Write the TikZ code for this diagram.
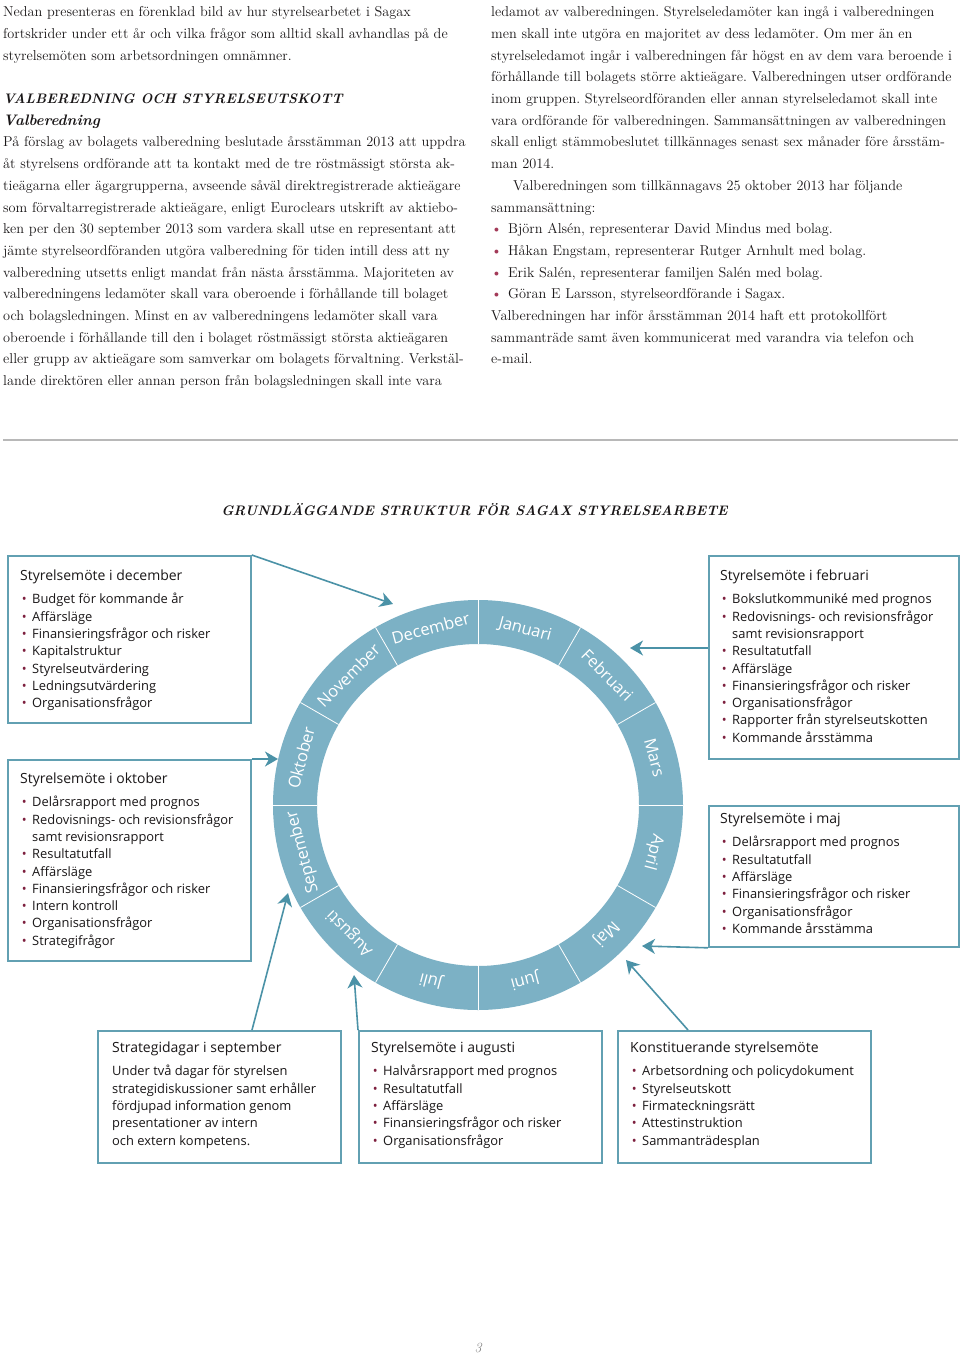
\documentclass[tikz,border=0pt]{standalone}
\usepackage{fontspec}
\newfontfamily\sansf{Open Sans}
\usetikzlibrary{arrows.meta,calc}
\definecolor{ringc}{HTML}{7CB1C5}
\definecolor{boxc}{HTML}{62A0B2}
\definecolor{arrc}{HTML}{4B92A7}
\definecolor{dotc}{HTML}{7D1F3E}
\definecolor{bulc}{HTML}{A33A58}
\definecolor{rulec}{HTML}{B8B8B8}
\definecolor{txt}{HTML}{1A1718}
\newcommand{\bodybul}{\makebox[17pt][l]{\textcolor{bulc}{\textbullet}}}
\newcommand{\boxbul}{\makebox[12pt][l]{\hspace*{1.6pt}\textcolor{dotc}{\textbullet}}}
\newcommand{\boxind}{\hspace*{12pt}}
\newcommand{\boxtitle}[1]{{\fontsize{14}{17.3}\selectfont\rule{0pt}{12pt}#1}}
\newcommand{\headf}{\bfseries\itshape\fontsize{13.8}{21.7}\selectfont}
\newcommand{\subheadf}{\bfseries\itshape\fontsize{15.2}{21.7}\selectfont}
\frenchspacing
\begin{document}
\begin{tikzpicture}[x=1pt,y=-1pt,
  body/.style={anchor=north west, inner sep=0, align=left, text=txt, font=\frenchspacing\fontsize{14.3}{21.7}\selectfont},
  frame/.style={draw=boxc, line width=1.8pt, anchor=north west, inner sep=0},
  boxtext/.style={anchor=north west, inner sep=0, align=left, text=txt, font=\sansf\fontsize{12.9}{17.3}\selectfont},
  conn/.style={draw=arrc, line width=1.6pt, -{Stealth[length=13pt,width=15pt,inset=4pt]}},
  month/.style={text=white, font=\sansf\fontsize{16.5}{18}\selectfont, inner sep=0, anchor=base},
]
\fill[white] (0,0) rectangle (960,1356);
\useasboundingbox (0,0) rectangle (960,1356);

% ---------- body text ----------
\node[body] (lcol) at (3,3.5) {\rule{0pt}{13pt}Nedan presenteras en förenklad bild av hur styrelsearbetet i Sagax\\
fortskrider under ett år och vilka frågor som alltid skall avhandlas på de\\
styrelsemöten som arbetsordningen omnämner.\\[21.7pt]
{\headf VALBEREDNING OCH STYRELSEUTSKOTT}\\
{\subheadf Valberedning}\\
På förslag av bolagets valberedning beslutade årsstämman 2013 att uppdra\\
åt styrelsens ordförande att ta kontakt med de tre röstmässigt största ak-\\
tieägarna eller ägargrupperna, avseende såväl direktregistrerade aktieägare\\
som förvaltarregistrerade aktieägare, enligt Euroclears utskrift av aktiebo-\\
ken per den 30 september 2013 som vardera skall utse en representant att\\
jämte styrelseordföranden utgöra valberedning för tiden intill dess att ny\\
valberedning utsetts enligt mandat från nästa årsstämma. Majoriteten av\\
valberedningens ledamöter skall vara oberoende i förhållande till bolaget\\
och bolagsledningen. Minst en av valberedningens ledamöter skall vara\\
oberoende i förhållande till den i bolaget röstmässigt största aktieägaren\\
eller grupp av aktieägare som samverkar om bolagets förvaltning. Verkstäl-\\
lande direktören eller annan person från bolagsledningen skall inte vara};

\node[body] (rcol) at (491,3.5) {\rule{0pt}{13pt}ledamot av valberedningen. Styrelseledamöter kan ingå i valberedningen\\
men skall inte utgöra en majoritet av dess ledamöter. Om mer än en\\
styrelseledamot ingår i valberedningen får högst en av dem vara beroende i\\
förhållande till bolagets större aktieägare. Valberedningen utser ordförande\\
inom gruppen. Styrelseordföranden eller annan styrelseledamot skall inte\\
vara ordförande för valberedningen. Sammansättningen av valberedningen\\
skall enligt stämmobeslutet tillkännages senast sex månader före årsstäm-\\
man 2014.\\
\hspace*{22pt}Valberedningen som tillkännagavs 25 oktober 2013 har följande\\
sammansättning:\\
\bodybul Björn Alsén, representerar David Mindus med bolag.\\
\bodybul Håkan Engstam, representerar Rutger Arnhult med bolag.\\
\bodybul Erik Salén, representerar familjen Salén med bolag.\\
\bodybul Göran E Larsson, styrelseordförande i Sagax.\\
Valberedningen har inför årsstämman 2014 haft ett protokollfört\\
sammanträde samt även kommunicerat med varandra via telefon och\\
e-mail.};

\draw[rulec, line width=1.2pt] (3,440) -- (958,440);

\node[anchor=base, text=txt, font=\bfseries\itshape\fontsize{13.8}{18}\selectfont] (title) at (474.5,515) {GRUNDLÄGGANDE STRUKTUR FÖR SAGAX STYRELSEARBETE};

% ---------- ring ----------
\fill[ringc, even odd rule] (478,805) circle[radius=205] (478,805) circle[radius=161];
\foreach \a in {0,30,...,330}
  \draw[white, line width=0.8pt] ({478+161*cos(\a)},{805-161*sin(\a)}) -- ({478+205*cos(\a)},{805-205*sin(\a)});
\foreach \m/\a in {Januari/75, Februari/45, Mars/15, April/-15, Maj/-45, Juni/-75, Juli/-105, Augusti/-135, September/-165, Oktober/165, November/135, December/105}
  \node[month, rotate=\a-90] (m\m) at ({478+177*cos(\a)},{805-177*sin(\a)}) {\m};

% ---------- boxes ----------
\node[frame, minimum width=243pt, minimum height=167pt] (dec) at (7,555) {};
\node[frame, minimum width=243pt, minimum height=201pt] (okt) at (7,759) {};
\node[frame, minimum width=250pt, minimum height=203pt] (feb) at (708,555) {};
\node[frame, minimum width=250pt, minimum height=141pt] (maj) at (708,805) {};
\node[frame, minimum width=243pt, minimum height=132pt] (strat) at (97,1030) {};
\node[frame, minimum width=243pt, minimum height=132pt] (aug) at (358,1030) {};
\node[frame, minimum width=253pt, minimum height=132pt] (konst) at (617,1030) {};

\node[boxtext] (decT) at (20,568.5) {\boxtitle{Styrelsemöte i december}\\[5.8pt]
\boxbul Budget för kommande år\\
\boxbul Affärsläge\\
\boxbul Finansieringsfrågor och risker\\
\boxbul Kapitalstruktur\\
\boxbul Styrelseutvärdering\\
\boxbul Ledningsutvärdering\\
\boxbul Organisationsfrågor};

\node[boxtext] (oktT) at (20,771.5) {\boxtitle{Styrelsemöte i oktober}\\[5.8pt]
\boxbul Delårsrapport med prognos\\
\boxbul Redovisnings- och revisionsfrågor\\
\boxind samt revisionsrapport\\
\boxbul Resultatutfall\\
\boxbul Affärsläge\\
\boxbul Finansieringsfrågor och risker\\
\boxbul Intern kontroll\\
\boxbul Organisationsfrågor\\
\boxbul Strategifrågor};

\node[boxtext] (febT) at (720,568.5) {\boxtitle{Styrelsemöte i februari}\\[5.8pt]
\boxbul Bokslutkommuniké med prognos\\
\boxbul Redovisnings- och revisionsfrågor\\
\boxind samt revisionsrapport\\
\boxbul Resultatutfall\\
\boxbul Affärsläge\\
\boxbul Finansieringsfrågor och risker\\
\boxbul Organisationsfrågor\\
\boxbul Rapporter från styrelseutskotten\\
\boxbul Kommande årsstämma};

\node[boxtext] (majT) at (720,811.5) {\boxtitle{Styrelsemöte i maj}\\[5.8pt]
\boxbul Delårsrapport med prognos\\
\boxbul Resultatutfall\\
\boxbul Affärsläge\\
\boxbul Finansieringsfrågor och risker\\
\boxbul Organisationsfrågor\\
\boxbul Kommande årsstämma};

\node[boxtext] (stratT) at (112,1040.5) {\boxtitle{Strategidagar i september}\\[5.8pt]
Under två dagar för styrelsen\\
strategidiskussioner samt erhåller\\
fördjupad information genom\\
presentationer av intern\\
och extern kompetens.};

\node[boxtext] (augT) at (371,1040.5) {\boxtitle{Styrelsemöte i augusti}\\[5.8pt]
\boxbul Halvårsrapport med prognos\\
\boxbul Resultatutfall\\
\boxbul Affärsläge\\
\boxbul Finansieringsfrågor och risker\\
\boxbul Organisationsfrågor};

\node[boxtext] (konstT) at (630,1040.5) {\boxtitle{Konstituerande styrelsemöte}\\[5.8pt]
\boxbul Arbetsordning och policydokument\\
\boxbul Styrelseutskott\\
\boxbul Firmateckningsrätt\\
\boxbul Attestinstruktion\\
\boxbul Sammanträdesplan};

% ---------- connectors ----------
\coordinate (tDec) at (393,604);
\coordinate (tOkt) at (278,759);
\coordinate (tFeb) at (630,648);
\coordinate (tMaj) at (642,946);
\coordinate (tStr) at (288,893);
\coordinate (tAug) at (354,975);
\coordinate (tKon) at (626,960);
\draw[conn] (dec.north east) -- (tDec);
\draw[conn] (okt.north east) -- (tOkt);
\draw[conn] (feb.north west |- tFeb) -- (tFeb);
\draw[conn] (maj.south west) -- (tMaj);
\draw[conn] ($(strat.north west)+(155,0)$) -- (tStr);
\draw[conn] (aug.north west) -- (tAug);
\draw[conn] ($(konst.north west)+(71,0)$) -- (tKon);

\node[anchor=base, text=gray, font=\itshape\fontsize{14}{14}\selectfont] (pg) at (478,1352) {3};
\end{tikzpicture}
\end{document}
